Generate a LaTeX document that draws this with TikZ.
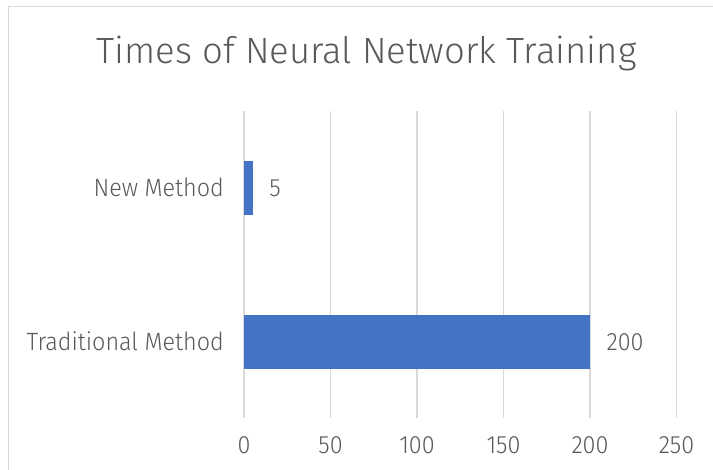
\documentclass[tikz,border=0pt]{standalone}
\usepackage{fontspec}
\setmainfont{Fira Sans Light}[FakeStretch=0.935]
\newfontfamily\titlefont{Fira Sans Light}
\definecolor{txtgray}{HTML}{595959}
\definecolor{gridgray}{HTML}{D9D9D9}
\definecolor{barblue}{HTML}{4472C4}
\tikzset{
  lbl/.style={inner sep=0pt, text=txtgray, font=\fontsize{25}{25}\selectfont},
  ttl/.style={inner sep=0pt, text=txtgray, font=\titlefont\fontsize{36.5}{36.5}\selectfont},
  gridline/.style={draw=gridgray, line width=1.5pt},
  barfill/.style={fill=barblue, draw=none, inner sep=0pt, minimum height=54pt, anchor=west},
}
\begin{document}
\begin{tikzpicture}[x=1pt,y=-1pt]
  \clip (0,0) rectangle (713,470);
  % chart frame
  \draw[gridgray, line width=1.5pt] (8.5,6.5) rectangle (740,500);
  % title
  \node[ttl, anchor=base] (title) at (366.5,64) {Times of Neural Network Training};
  % value axis: gridlines and tick labels (0 at x=244, 1.73 per unit)
  \foreach \v in {0,50,100,150,200,250}{
    \draw[gridline] ({244+1.73*\v},111) -- ({244+1.73*\v},418);
    \node[lbl, anchor=base] (tick\v) at ({244+1.73*\v},454) {\v};
  }
  % bars
  \node[barfill, minimum width={1.73*5pt}] (barnew) at (244,188) {};
  \node[barfill, minimum width={1.73*200pt}] (bartrad) at (244,342) {};
  % category labels
  \node[lbl, anchor=base east] (catnew) at (224,197) {New Method};
  \node[lbl, anchor=base east] (cattrad) at (224,351) {Traditional Method};
  % data labels
  \node[lbl, anchor=base west] (valnew) at ([xshift=16pt]barnew.east |- 0,197) {5};
  \node[lbl, anchor=base west] (valtrad) at ([xshift=16pt]bartrad.east |- 0,351) {200};
\end{tikzpicture}
\end{document}
